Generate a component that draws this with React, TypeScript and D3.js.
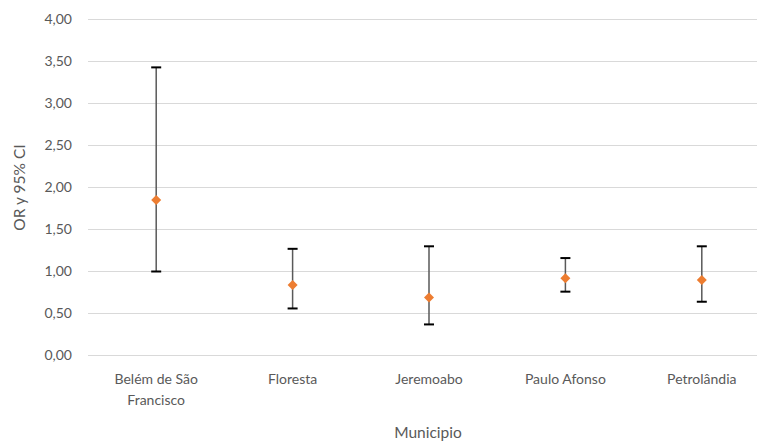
import React from "react";
import * as d3 from "d3";

const categories = ["Belém de São Francisco", "Floresta", "Jeremoabo", "Paulo Afonso", "Petrolândia"];
const categoryLines = [["Belém de São", "Francisco"], ["Floresta"], ["Jeremoabo"], ["Paulo Afonso"], ["Petrolândia"]];
const orValues = [1.85, 0.84, 0.69, 0.92, 0.9];
const lowerCI = [1.0, 0.56, 0.37, 0.76, 0.64];
const upperCI = [3.43, 1.27, 1.3, 1.16, 1.3];
const yTicks = [0, 0.5, 1, 1.5, 2, 2.5, 3, 3.5, 4];

const W = 757;
const H = 443;
const left = 88;
const right = 770;
const top = 19.5;
const bottom = 355.5;
const font = "Lato, 'Open Sans', sans-serif";
const textColor = "#595959";

export default function App() {
  const x = d3.scaleBand<string>().domain(categories).range([left, right]);
  const y = d3.scaleLinear().domain([0, 4]).range([bottom, top]);
  const fmt = (v: number) => v.toFixed(2).replace(".", ",");
  return (
    <svg width={W} height={H} style={{ position: "absolute", left: 0, top: 0, background: "#fff" }}>
      {yTicks.map((t) => (
        <g key={t}>
          <line x1={left} x2={right} y1={y(t)} y2={y(t)} stroke="#d9d9d9" strokeWidth={1} />
          <text x={72} y={y(t)} dy="0.35em" textAnchor="end" fontFamily={font} fontSize={14} fill={textColor}>
            {fmt(t)}
          </text>
        </g>
      ))}
      {categories.map((c, i) => {
        const cx = (x(c) as number) + x.bandwidth() / 2;
        return (
          <g key={c}>
            <line x1={cx} x2={cx} y1={y(upperCI[i])} y2={y(lowerCI[i])} stroke="#595959" strokeWidth={1.5} />
            <line x1={cx - 5} x2={cx + 5} y1={y(upperCI[i])} y2={y(upperCI[i])} stroke="#000" strokeWidth={2} />
            <line x1={cx - 5} x2={cx + 5} y1={y(lowerCI[i])} y2={y(lowerCI[i])} stroke="#000" strokeWidth={2} />
            <path
              d={d3.symbol(d3.symbolSquare, 50)() as string}
              transform={`translate(${cx},${y(orValues[i])}) rotate(45)`}
              fill="#ED7D31"
            />
            {categoryLines[i].map((ln, j) => (
              <text key={j} x={cx} y={384 + j * 21} textAnchor="middle" fontFamily={font} fontSize={14} fill={textColor}>
                {ln}
              </text>
            ))}
          </g>
        );
      })}
      <text
        transform={`translate(25,${(top + bottom) / 2}) rotate(-90)`}
        textAnchor="middle"
        fontFamily={font}
        fontSize={15.5}
        fill={textColor}
      >
        OR y 95% CI
      </text>
      <text x={428} y={438} textAnchor="middle" fontFamily={font} fontSize={15.5} fill={textColor}>
        Municipio
      </text>
    </svg>
  );
}
